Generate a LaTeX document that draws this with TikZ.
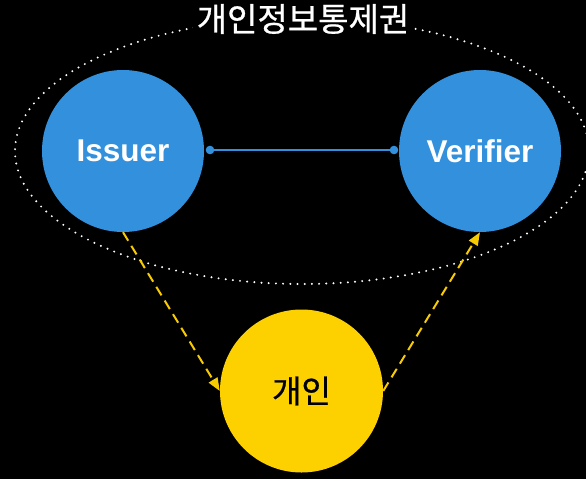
\documentclass[tikz,border=0pt]{standalone}
\usepackage{fontspec}
\setmainfont{Liberation Sans}
\newfontfamily\krfont{Noto Sans CJK KR}
\newfontfamily\krboldish[FakeBold=0.7]{Noto Sans CJK KR}
\usetikzlibrary{arrows.meta}
\definecolor{nodeblue}{HTML}{3290DC}
\definecolor{nodeyellow}{HTML}{FDD100}
\definecolor{dashyellow}{HTML}{F7CB00}
\tikzset{
  party/.style={circle, fill=nodeblue, minimum size=162pt, inner sep=0pt, text=white, font=\fontsize{31.5}{33}\selectfont\bfseries},
  person/.style={circle, fill=nodeyellow, minimum size=163pt, inner sep=0pt, text=black, font=\krboldish\fontsize{32}{34}\selectfont},
  flow/.style={draw=dashyellow, line width=2pt, dash pattern=on 10pt off 6pt, -{Triangle[length=13pt,width=10pt]}},
  link/.style={draw=nodeblue, line width=1.6pt},
  boundary/.style={draw=white, line width=2.2pt, line cap=round, dash pattern=on 0pt off 7.2pt},
  titlebox/.style={fill=black, text=white, font=\krboldish\fontsize{33}{35}\selectfont, inner xsep=4pt, inner ysep=1pt}
}
\begin{document}
\begin{tikzpicture}[x=1pt,y=-1pt]
\fill[black] (0,0) rectangle (586,479);
\useasboundingbox (0,0) rectangle (586,479);
\begin{scope}
\clip (0,0) rectangle (586,479);
\draw[boundary] (302,151) ellipse [x radius=287, y radius=133];
\end{scope}
\node[titlebox] (title) at (303,19) {개인정보통제권};
\node[party] (issuer) at (123,151) {Issuer};
\node[party] (verifier) at (480,151) {Verifier};
\node[person] (me) at (301.5,391) {개인};
\coordinate (la) at (210,150);
\coordinate (lb) at (394,150);
\draw[link] (la) -- (lb);
\fill[nodeblue] (la) circle (4.3pt);
\fill[nodeblue] (lb) circle (4.3pt);
\draw[flow] (issuer.south) -- (me.west);
\draw[flow] (me.east) -- (verifier.south);
\end{tikzpicture}
\end{document}
